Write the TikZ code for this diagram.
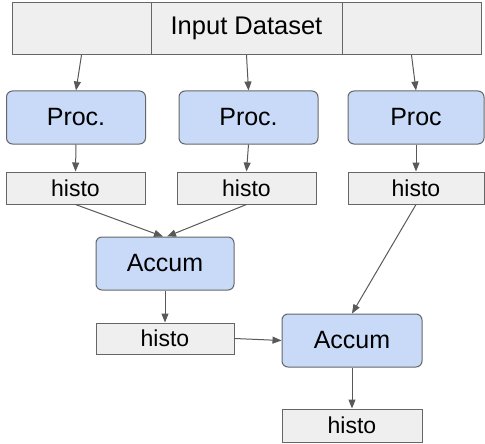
\documentclass[tikz,border=0pt]{standalone}
\usepackage{fontspec}
\setmainfont{Liberation Sans}
\usepackage{xcolor}
\usetikzlibrary{arrows.meta, positioning}
\definecolor{boxgrey}{HTML}{EFEFEF}
\definecolor{boxblue}{HTML}{C9DAF8}
\definecolor{edgegrey}{HTML}{666666}
\definecolor{arrowgrey}{HTML}{595959}
\tikzstyle{data} = [rectangle, minimum height=32pt, text centered, draw=edgegrey, fill=boxgrey, line width=1pt, inner sep=0pt, font=\fontsize{23}{27}\selectfont]
\tikzstyle{worker} = [rectangle, rounded corners=6pt, minimum height=53pt, text centered, draw=edgegrey, fill=boxblue, line width=1pt, inner sep=0pt, font=\fontsize{25}{30}\selectfont]
\tikzstyle{arrow} = [line width=1pt, draw=arrowgrey, -{Triangle[length=9pt,width=7pt]}]

\begin{document}
\begin{tikzpicture}[x=1pt, y=-1pt]
\useasboundingbox (0,0) rectangle (485,444);
% input dataset, split in three parts
\node (inL) [data, minimum width=139pt, minimum height=52pt] at (81.5,28.5) {};
\node (input) [data, minimum width=191pt, minimum height=52pt, font=\fontsize{25.5}{30}\selectfont] at (246.5,28.5) {Input Dataset};
\node (inR) [data, minimum width=139pt, minimum height=52pt] at (411.5,28.5) {};

\node (proc1) [worker, minimum width=139pt] at (76,117.5) {Proc.};
\node (proc2) [worker, minimum width=139pt] at (248.5,117.5) {Proc.};
\node (proc3) [worker, minimum width=136pt] at (416,117.5) {Proc};

\node (histo1) [data, minimum width=139pt] at (75.5,188) {histo};
\node (histo2) [data, minimum width=139pt] at (246.5,188) {histo};
\node (histo3) [data, minimum width=136pt] at (416,188) {histo};

\node (accum1) [worker, minimum width=138pt] at (165,263.5) {Accum};
\node (histo4) [data, minimum width=138pt, minimum height=31pt] at (165,338.5) {histo};
\node (accum2) [worker, minimum width=140pt] at (352,340.5) {Accum};
\node (histo5) [data, minimum width=140pt, minimum height=33pt] at (352,425.5) {histo};

\draw [arrow] (inL.south) -- (proc1.north);
\draw [arrow] (input.south) -- (proc2.north);
\draw [arrow] (inR.south) -- (proc3.north);
\draw [arrow] (proc1.south) -- (histo1.north);
\draw [arrow] (proc2.south) -- (histo2.north);
\draw [arrow] (proc3.south) -- (histo3.north);
\draw [arrow] (histo1.south) -- ([xshift=-2pt]accum1.north);
\draw [arrow] (histo2.south) -- ([xshift=2pt]accum1.north);
\draw [arrow] (histo3.south) -- (accum2.north);
\draw [arrow] (accum1.south) -- (histo4.north);
\draw [arrow] (histo4.east) -- (accum2.west);
\draw [arrow] (accum2.south) -- (histo5.north);
\end{tikzpicture}
\end{document}
